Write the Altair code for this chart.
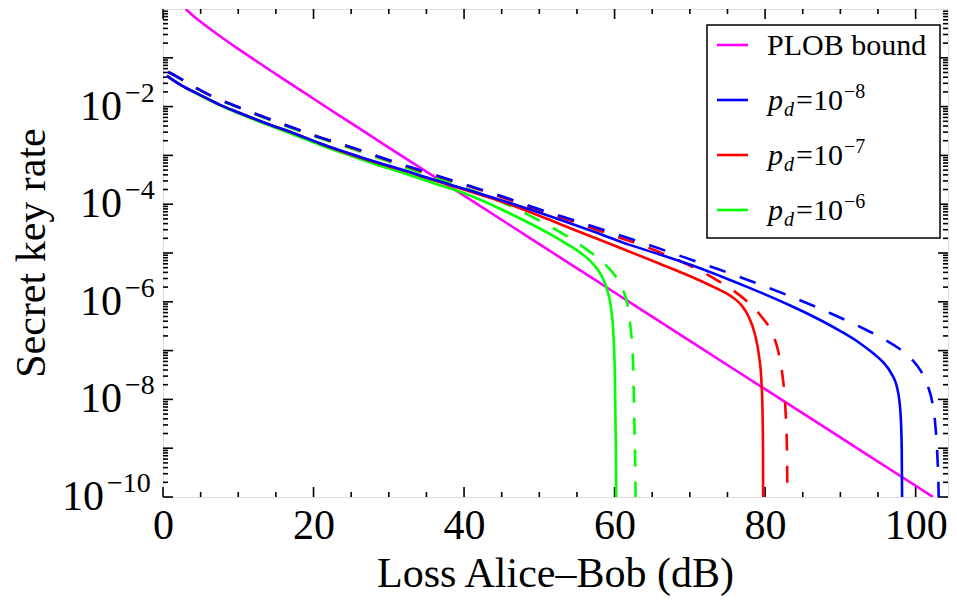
import altair as alt
import pandas as pd

FONT = "Liberation Serif"
W, H = 785, 488

# ---------------- values ----------------
plob_L = [3, 4, 5, 6, 8, 10, 15, 20, 25, 30, 40, 50, 60, 70, 80, 90, 100, 102.3]
plob_rate = [1.0, 0.73, 0.548, 0.417, 0.248, 0.152, 0.0464, 0.0145, 0.00457, 0.00144,
             1.5e-4, 1.52e-5, 1.55e-6, 1.58e-7, 1.62e-8, 1.66e-9, 1.7e-10, 1.0e-10]

blue_solid_L = [0.5, 2.5, 4.9, 7.5, 10.2, 13.5, 17.3, 20.8, 24.4, 28, 31.5, 36, 40.8, 46,
                51.5, 57, 62.1, 66, 70.1, 74, 78, 83.4, 86, 90, 92.5, 94.4, 95.7, 96.7,
                97.6, 98.0, 98.15, 98.25]
blue_solid_rate = [4.27e-2, 2.69e-2, 1.74e-2, 1.10e-2, 7.41e-3, 4.68e-3, 2.88e-3, 1.78e-3,
                   1.15e-3, 7.59e-4, 5.25e-4, 3.16e-4, 1.91e-4, 1.07e-4, 5.62e-5, 2.82e-5,
                   1.45e-5, 9.33e-6, 5.75e-6, 3.39e-6, 1.91e-6, 8.32e-7, 5.37e-7, 2.51e-7,
                   1.45e-7, 8.71e-8, 5.75e-8, 3.55e-8, 1.58e-8, 4.90e-9, 1e-9, 1e-11]

blue_dash_L = [0.7, 1.8, 4, 6.3, 11.0, 15.8, 20.5, 25.4, 30.3, 35.1, 40.0, 44.9, 49.7, 54.6,
               59.4, 64.3, 69.1, 73.9, 78.7, 83.4, 88.6, 92.7, 95.5, 97.8, 99.5, 100.7,
               101.6, 102.2, 102.6, 102.9, 103.05, 103.1]
blue_dash_rate = [5.13e-2, 4.17e-2, 2.63e-2, 1.70e-2, 8.51e-3, 4.47e-3, 2.45e-3, 1.41e-3,
                  7.76e-4, 4.47e-4, 2.57e-4, 1.48e-4, 8.13e-5, 4.68e-5, 2.69e-5, 1.51e-5,
                  8.32e-6, 4.57e-6, 2.45e-6, 1.29e-6, 5.89e-7, 3.02e-7, 1.82e-7, 1.10e-7,
                  6.61e-8, 3.80e-8, 1.91e-8, 8.91e-9, 3.16e-9, 6.31e-10, 1.26e-10, 1e-11]

red_solid_L = [0.5, 2.5, 4.9, 7.5, 10.2, 13.5, 17.3, 20.8, 24.4, 28, 31.5, 36, 40.8, 46,
               52.8, 57.5, 62.1, 66, 69.5, 72, 74, 75.5, 76.8, 77.8, 78.6, 79.2, 79.5,
               79.65, 79.72, 79.75]
red_solid_rate = [4.27e-2, 2.69e-2, 1.74e-2, 1.10e-2, 7.41e-3, 4.68e-3, 2.88e-3, 1.78e-3,
                  1.12e-3, 7.41e-4, 5.13e-4, 3.09e-4, 1.82e-4, 1.00e-4, 3.89e-5, 2.00e-5,
                  1.05e-5, 6.03e-6, 3.63e-6, 2.45e-6, 1.74e-6, 1.29e-6, 8.71e-7, 5.01e-7,
                  2.29e-7, 7.59e-8, 2.51e-8, 6.31e-9, 1e-9, 1e-11]

red_dash_L = [0.7, 1.8, 4, 6.3, 11.0, 15.8, 20.5, 25.4, 30.3, 35.1, 40.0, 44.9, 49.7, 54.6,
              59.4, 64.3, 67, 70, 73.2, 75.5, 77.5, 79.5, 80.8, 81.8, 82.3, 82.7, 82.9, 83.0]
red_dash_rate = [5.13e-2, 4.17e-2, 2.63e-2, 1.70e-2, 8.51e-3, 4.47e-3, 2.45e-3, 1.38e-3,
                 7.59e-4, 4.37e-4, 2.51e-4, 1.41e-4, 7.76e-5, 4.37e-5, 2.40e-5, 1.32e-5,
                 8.91e-6, 5.50e-6, 3.02e-6, 1.82e-6, 1.05e-6, 5.01e-7, 2.51e-7, 8.91e-8,
                 3.16e-8, 6.31e-9, 1e-9, 1e-11]

green_solid_L = [0.5, 2.5, 4.9, 7.5, 10.2, 13.5, 17.3, 20.8, 24.4, 28, 31.5, 36, 40.8, 46.1,
                 51.5, 53.5, 55.5, 57.0, 58.2, 59.0, 59.5, 59.85, 60.05, 60.15, 60.22, 60.25]
green_solid_rate = [4.27e-2, 2.69e-2, 1.70e-2, 1.07e-2, 7.08e-3, 4.47e-3, 2.69e-3, 1.66e-3,
                    1.05e-3, 6.76e-4, 4.57e-4, 2.69e-4, 1.51e-4, 6.46e-5, 2.40e-5, 1.58e-5,
                    1.0e-5, 6.31e-6, 3.55e-6, 1.78e-6, 7.94e-7, 2.0e-7, 2.51e-8, 1.58e-9,
                    1e-10, 1e-11]

green_dash_L = [0.7, 1.8, 4, 6.3, 11.0, 15.8, 20.5, 25.4, 30.3, 35.1, 40.0, 44.9, 49.2, 53.7,
                56.5, 58.5, 60.0, 61.0, 61.7, 62.1, 62.45, 62.6, 62.75, 62.85]
green_dash_rate = [5.13e-2, 4.07e-2, 2.57e-2, 1.66e-2, 8.32e-3, 4.27e-3, 2.34e-3, 1.32e-3,
                   7.24e-4, 3.98e-4, 2.19e-4, 1.12e-4, 5.37e-5, 2.19e-5, 1.12e-5, 6.31e-6,
                   3.55e-6, 1.91e-6, 8.91e-7, 3.16e-7, 5.89e-8, 5.01e-9, 3.98e-10, 1e-11]

# axis ticks / labels
x_label_values = [0, 20, 40, 60, 80, 100]
x_minor_values = [5, 10, 15, 25, 30, 35, 45, 50, 55, 65, 70, 75, 85, 90, 95]
y_decades = [1e-10, 1e-9, 1e-8, 1e-7, 1e-6, 1e-5, 1e-4, 1e-3, 1e-2, 1e-1]
y_minor_mult = [2, 3, 4, 5, 6, 7, 8, 9]
y_label_values = [1e-10, 1e-8, 1e-6, 1e-4, 1e-2]
y_label_base = ["10", "10", "10", "10", "10"]
y_label_exp = ["−10", "−8", "−6", "−4", "−2"]

# legend
legend_colors = ["#ff00ff", "#0000ff", "#ff0000", "#00ff00"]
legend_first = "PLOB bound"
legend_exps = ["−8", "−7", "−6"]

x_title = "Loss Alice–Bob (dB)"
y_title = "Secret key rate"

# ---------------- chart ----------------
xs = alt.Scale(domain=[0, 104.3], nice=False, zero=False)
ys = alt.Scale(type="log", domain=[1e-10, 1], nice=False)

xaxis = alt.Axis(values=x_label_values, ticks=False, domain=False, grid=False,
                 labelFontSize=42, labelPadding=8, labelFlush=False, labelFont=FONT,
                 labelColor="black", format="d", title=None, labelOverlap=False)

X = lambda f: alt.X(f, scale=xs, axis=xaxis)
Y = lambda f: alt.Y(f, scale=ys, axis=None)

layers = []

# frame ticks (inward, all four sides)
xmaj = pd.DataFrame({"t": x_label_values})
xmin = pd.DataFrame({"t": x_minor_values})
ymaj = pd.DataFrame({"v": y_decades})
ymin = pd.DataFrame({"v": [m * d for d in y_decades for m in y_minor_mult]})
for df, ln in [(xmaj, 10), (xmin, 5)]:
    layers.append(alt.Chart(df).mark_rule(color="black", strokeWidth=1.6).encode(
        x=X("t:Q"), y=alt.value(H), y2=alt.value(H - ln)))
    layers.append(alt.Chart(df).mark_rule(color="black", strokeWidth=1.6).encode(
        x=X("t:Q"), y=alt.value(0), y2=alt.value(ln)))
for df, ln in [(ymaj, 10), (ymin, 5)]:
    layers.append(alt.Chart(df).mark_rule(color="black", strokeWidth=1.6).encode(
        y=Y("v:Q"), x=alt.value(0), x2=alt.value(ln)))
    layers.append(alt.Chart(df).mark_rule(color="black", strokeWidth=1.6).encode(
        y=Y("v:Q"), x=alt.value(W), x2=alt.value(W - ln)))

# y tick labels: "10" with a raised exponent, placed on the log scale
ylab = pd.DataFrame({"v": y_label_values, "b": y_label_base, "e": y_label_exp})
ylab["wide"] = ylab["e"].str.len() > 2
for wide, xb in [(False, -41), (True, -59)]:
    sub = ylab[ylab["wide"] == wide]
    layers.append(alt.Chart(sub).mark_text(font=FONT, fontSize=42, align="right",
                                           baseline="alphabetic", dy=13, color="black").encode(
        y=Y("v:Q"), x=alt.value(xb), text="b:N"))
    layers.append(alt.Chart(sub).mark_text(font=FONT, fontSize=28, align="left",
                                           baseline="alphabetic", dy=-5, color="black").encode(
        y=Y("v:Q"), x=alt.value(xb + 3), text="e:N"))


def curve(L, R, color, dashed=False):
    df = pd.DataFrame({"L": L, "rate": R, "i": list(range(len(L)))})
    kw = dict(color=color, strokeWidth=2.6, clip=True, interpolate="monotone")
    if dashed:
        kw["strokeDash"] = [17, 15]
    return alt.Chart(df).mark_line(**kw).encode(
        x=X("L:Q"), y=Y("rate:Q"), order=alt.Order("i:Q"))


layers.append(curve(plob_L, plob_rate, legend_colors[0]))
layers.append(curve(green_solid_L, green_solid_rate, legend_colors[3]))
layers.append(curve(green_dash_L, green_dash_rate, legend_colors[3], True))
layers.append(curve(red_solid_L, red_solid_rate, legend_colors[2]))
layers.append(curve(red_dash_L, red_dash_rate, legend_colors[2], True))
layers.append(curve(blue_solid_L, blue_solid_rate, legend_colors[1]))
layers.append(curve(blue_dash_L, blue_dash_rate, legend_colors[1], True))


def text(s, x, y, size, style="normal", align="left", baseline="alphabetic", angle=0):
    df = pd.DataFrame({"s": [s]})
    return alt.Chart(df).mark_text(font=FONT, fontSize=size, fontStyle=style, align=align,
                                   baseline=baseline, angle=angle, color="black").encode(
        text="s:N", x=alt.value(x), y=alt.value(y))


# legend (box, samples, rich labels)
box = pd.DataFrame({"k": [0]})
layers.append(alt.Chart(box).mark_rect(fill="white", stroke="black", strokeWidth=1.5).encode(
    x=alt.value(544), x2=alt.value(777), y=alt.value(16), y2=alt.value(229)))
row_y = [36, 91, 146, 201]
for c, ry in zip(legend_colors, row_y):
    layers.append(alt.Chart(box).mark_rule(color=c, strokeWidth=2.6).encode(
        x=alt.value(554), x2=alt.value(585), y=alt.value(ry)))
layers.append(text(legend_first, 604, row_y[0] + 10, 30))
for ex, ry in zip(legend_exps, row_y[1:]):
    layers.append(text("p", 605, ry + 10, 30, style="italic"))
    layers.append(text("d", 621, ry + 16, 20, style="italic"))
    layers.append(text("=10", 633, ry + 10, 30))
    layers.append(text(ex, 681, ry - 2, 20))

# axis titles
layers.append(text(x_title, W / 2, H + 90, 42, align="center"))
layers.append(text(y_title, -118, H / 2, 42, align="center", angle=270))

chart = alt.layer(*layers).properties(
    width=W, height=H,
    autosize=alt.AutoSizeParams(type="none"),
    padding={"left": 155, "top": 1, "right": 1, "bottom": 102},
).configure_view(stroke="black", strokeWidth=2.5).configure(font=FONT)

chart.save("out.html", embed_options={"renderer": "svg", "actions": False})
